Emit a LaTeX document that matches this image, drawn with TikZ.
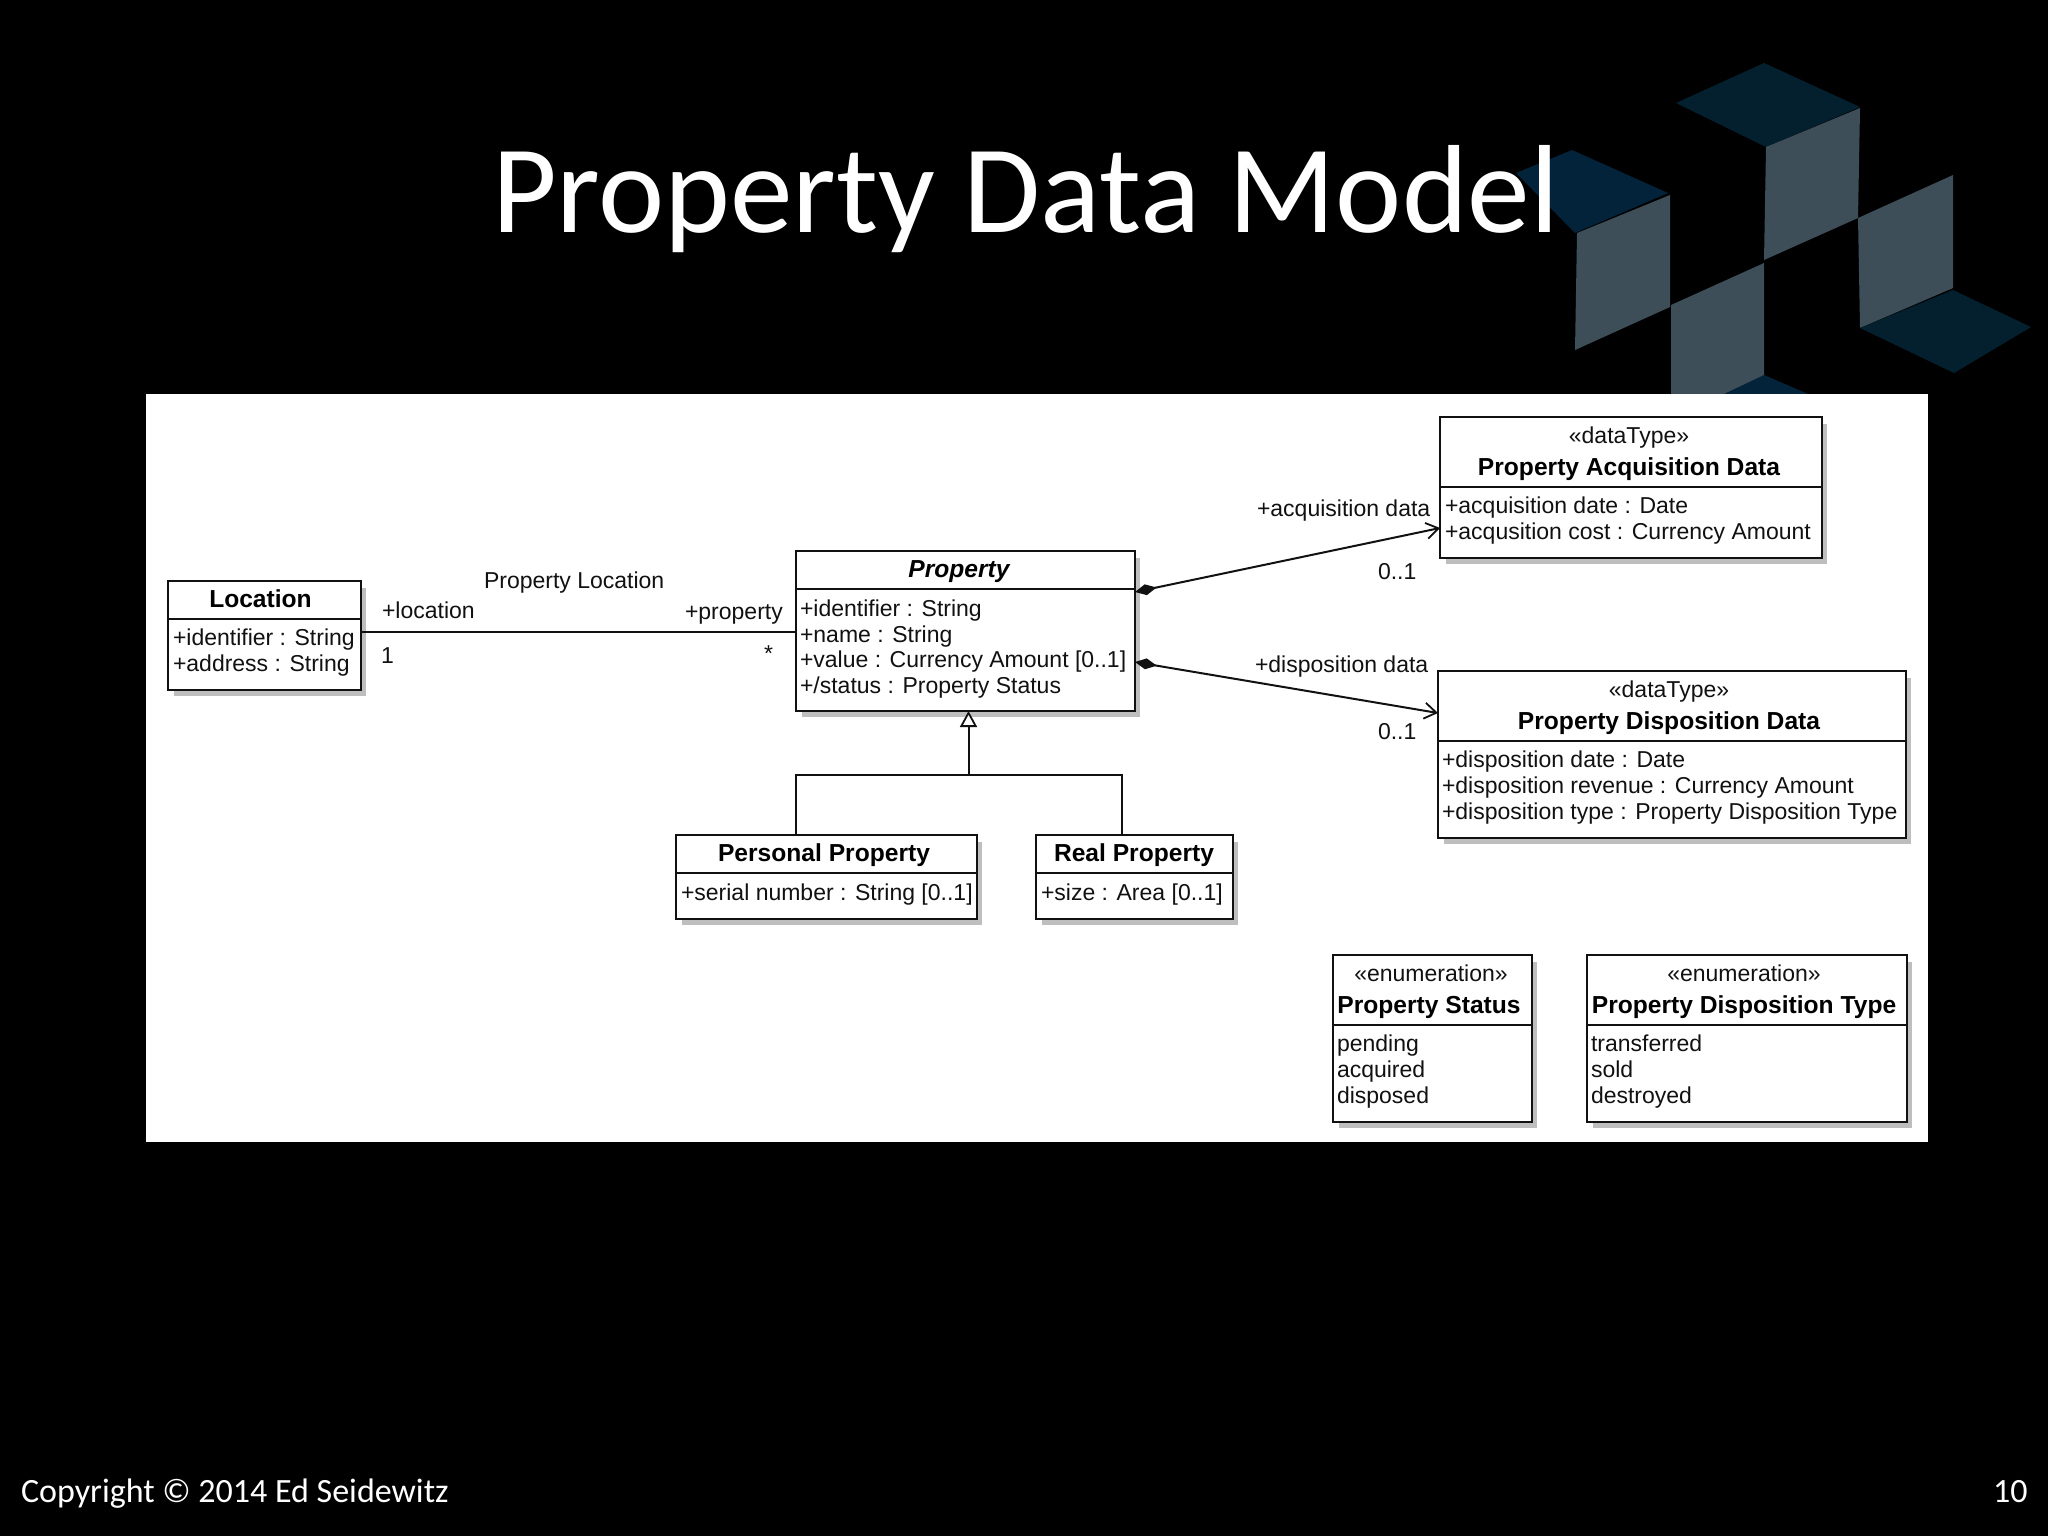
\documentclass[tikz,border=0pt]{standalone}
\usepackage{fontspec}
\setmainfont{Liberation Sans}
\newfontfamily\slidefont{Carlito}
\usetikzlibrary{arrows.meta}
\definecolor{inkc}{HTML}{111111}
\definecolor{shadec}{HTML}{BEBEBE}
\definecolor{facec}{HTML}{3E4E59}
\definecolor{topc}{HTML}{04202F}
\definecolor{topd}{HTML}{03233A}
\tikzset{
  x=0.5pt,y=-0.5pt,
  classframe/.style={draw=inkc,line width=1.3pt,fill=white,inner sep=0pt,outer sep=0pt},
  rule/.style={draw=inkc,line width=1.3pt},
  wire/.style={draw=inkc,line width=1pt},
  txt/.style={anchor=base west,inner sep=0pt,outer sep=0pt,text=inkc,font=\fontsize{11.5}{13}\selectfont},
  mid/.style={anchor=base,inner sep=0pt,outer sep=0pt,text=inkc,font=\fontsize{11.5}{13}\selectfont},
  boldmid/.style={anchor=base,inner sep=0pt,outer sep=0pt,text=black,font=\fontsize{12.3}{14}\selectfont\bfseries},
  slide/.style={anchor=base west,inner sep=0pt,outer sep=0pt,text=white},
  composite/.style={wire,{Diamond[fill=inkc,length=11pt,width=5.5pt]}-{Straight Barb[length=6pt,width=8pt,line width=0.9pt]}},
  inherit/.style={wire,-{Triangle[open,fill=white,length=8pt,width=8.5pt,line width=0.9pt]}},
}
\newcommand{\classbox}[6]{%
  \pgfmathsetmacro{\wdv}{(#4-#2)*0.5}%
  \pgfmathsetmacro{\htv}{(#5-#3)*0.5}%
  \pgfmathsetmacro{\cxv}{(#2+#4)/2}%
  \pgfmathsetmacro{\cyv}{(#3+#5)/2}%
  \fill[shadec] (#2+6,#3+7) rectangle (#4+5,#5+6);
  \node[classframe,minimum width=\wdv pt,minimum height=\htv pt] (#1) at (\cxv,\cyv) {};
  \draw[rule] (#1.west |- 0,#6) -- (#1.east |- 0,#6);
}
\begin{document}
\begin{tikzpicture}
\useasboundingbox (0,0) rectangle (2048,1536);
\fill[black] (0,0) rectangle (2048,1536);
% decorative cubes
\fill[topc] (1676,103) -- (1764,63) -- (1860,107) -- (1766,147) -- cycle;
\fill[facec] (1766,147) -- (1860,108) -- (1858,218) -- (1764,260) -- cycle;
\fill[topd] (1516,173) -- (1572,150) -- (1668,193) -- (1575,233) -- cycle;
\fill[facec] (1577,233) -- (1670,195) -- (1670,307) -- (1575,350) -- cycle;
\fill[facec] (1671,305) -- (1764,263) -- (1764,420) -- (1671,420) -- cycle;
\fill[topd] (1724,394) -- (1764,375) -- (1808,394) -- (1808,400) -- (1724,400) -- cycle;
\fill[facec] (1858,218) -- (1953,175) -- (1953,288) -- (1860,328) -- cycle;
\fill[topc] (1860,328) -- (1953,290) -- (2031,327) -- (1954,373) -- cycle;
% title and footer
\node[slide,font=\fontsize{62.7}{70}\selectfont\slidefont] (title) at (492,232) {Property Data Model};
\node[slide,font=\fontsize{17}{20}\selectfont\slidefont] (copy) at (21,1502) {Copyright © 2014 Ed Seidewitz};
\node[slide,font=\fontsize{17}{20}\selectfont\slidefont] (pageno) at (1993,1502) {10};
% white panel
\fill[white] (146,394) rectangle (1928,1142);
% classes
\classbox{loc}{168}{581}{361}{690}{619}
\classbox{prop}{796}{551}{1135}{711}{589}
\classbox{pers}{676}{835}{977}{919}{873}
\classbox{real}{1036}{835}{1233}{919}{873}
\classbox{acq}{1440}{417}{1822}{558}{487}
\classbox{disp}{1438}{671}{1906}{838}{741}
\classbox{stat}{1333}{955}{1532}{1122}{1025}
\classbox{dtype}{1587}{955}{1907}{1122}{1025}
% connector ends
\coordinate (assocL) at (loc.east |- 0,632);
\coordinate (assocR) at (prop.west |- 0,632);
\coordinate (genTip) at (968.5,711);
\coordinate (genBus) at (968.5,775);
\coordinate (busL) at (796,775);
\coordinate (busR) at (1122,775);
\coordinate (persTop) at (796,835);
\coordinate (realTop) at (1122,835);
\coordinate (c1a) at (prop.east |- 0,592);
\coordinate (c1b) at (acq.west |- 0,528);
\coordinate (c2a) at (prop.east |- 0,662);
\coordinate (c2b) at (disp.west |- 0,713);
% connectors
\draw[wire] (assocL) -- (assocR);
\draw[inherit] (genBus) -- (genTip);
\draw[wire] (persTop) -- (busL) -- (busR) -- (realTop);
\draw[composite] (c1a) -- (c1b);
\draw[composite] (c2a) -- (c2b);
% Location
\node[boldmid] (locT) at (260.5,607) {Location};
\node[txt] (locA) at (173,645) {+identifier : String};
\node[txt] (locB) at (173,671) {+address : String};
% Property
\node[boldmid,font=\fontsize{12.3}{14}\selectfont\bfseries\itshape] (propT) at (959,577) {Property};
\node[txt] (propA) at (800,616) {+identifier : String};
\node[txt] (propB) at (800,642) {+name : String};
\node[txt] (propC) at (800,667) {+value : Currency Amount [0..1]};
\node[txt] (propD) at (800,693) {+/status : Property Status};
% Personal, Real
\node[boldmid] (persT) at (824,861) {Personal Property};
\node[txt] (persA) at (681,900) {+serial number : String [0..1]};
\node[boldmid] (realT) at (1134,861) {Real Property};
\node[txt] (realA) at (1041,900) {+size : Area [0..1]};
% Acquisition
\node[mid] (acqS) at (1629,443) {«dataType»};
\node[boldmid] (acqT) at (1629,475) {Property Acquisition Data};
\node[txt] (acqA) at (1445,513) {+acquisition date : Date};
\node[txt] (acqB) at (1445,539) {+acqusition cost : Currency Amount};
% Disposition
\node[mid] (dispS) at (1669,697) {«dataType»};
\node[boldmid] (dispT) at (1669,729) {Property Disposition Data};
\node[txt] (dispA) at (1442,767) {+disposition date : Date};
\node[txt] (dispB) at (1442,793) {+disposition revenue : Currency Amount};
\node[txt] (dispC) at (1442,819) {+disposition type : Property Disposition Type};
% Status
\node[mid] (statS) at (1431,981) {«enumeration»};
\node[boldmid] (statT) at (1429,1013) {Property Status};
\node[txt] (statA) at (1337,1051) {pending};
\node[txt] (statB) at (1337,1077) {acquired};
\node[txt] (statC) at (1337,1103) {disposed};
% Disposition type
\node[mid] (dtypeS) at (1744,981) {«enumeration»};
\node[boldmid] (dtypeT) at (1744,1013) {Property Disposition Type};
\node[txt] (dtypeA) at (1591,1051) {transferred};
\node[txt] (dtypeB) at (1591,1077) {sold};
\node[txt] (dtypeC) at (1591,1103) {destroyed};
% association labels
\node[txt] (assocName) at (484,588) {Property Location};
\node[txt] (roleL) at (382,618) {+location};
\node[txt] (roleR) at (685,619) {+property};
\node[txt] (multL) at (381,663) {1};
\node[txt] (multR) at (764,661) {*};
\node[txt] (roleA) at (1257,516) {+acquisition data};
\node[txt] (multA) at (1378,579) {0..1};
\node[txt] (roleD) at (1255,672) {+disposition data};
\node[txt] (multD) at (1378,739) {0..1};
\end{tikzpicture}
\end{document}
